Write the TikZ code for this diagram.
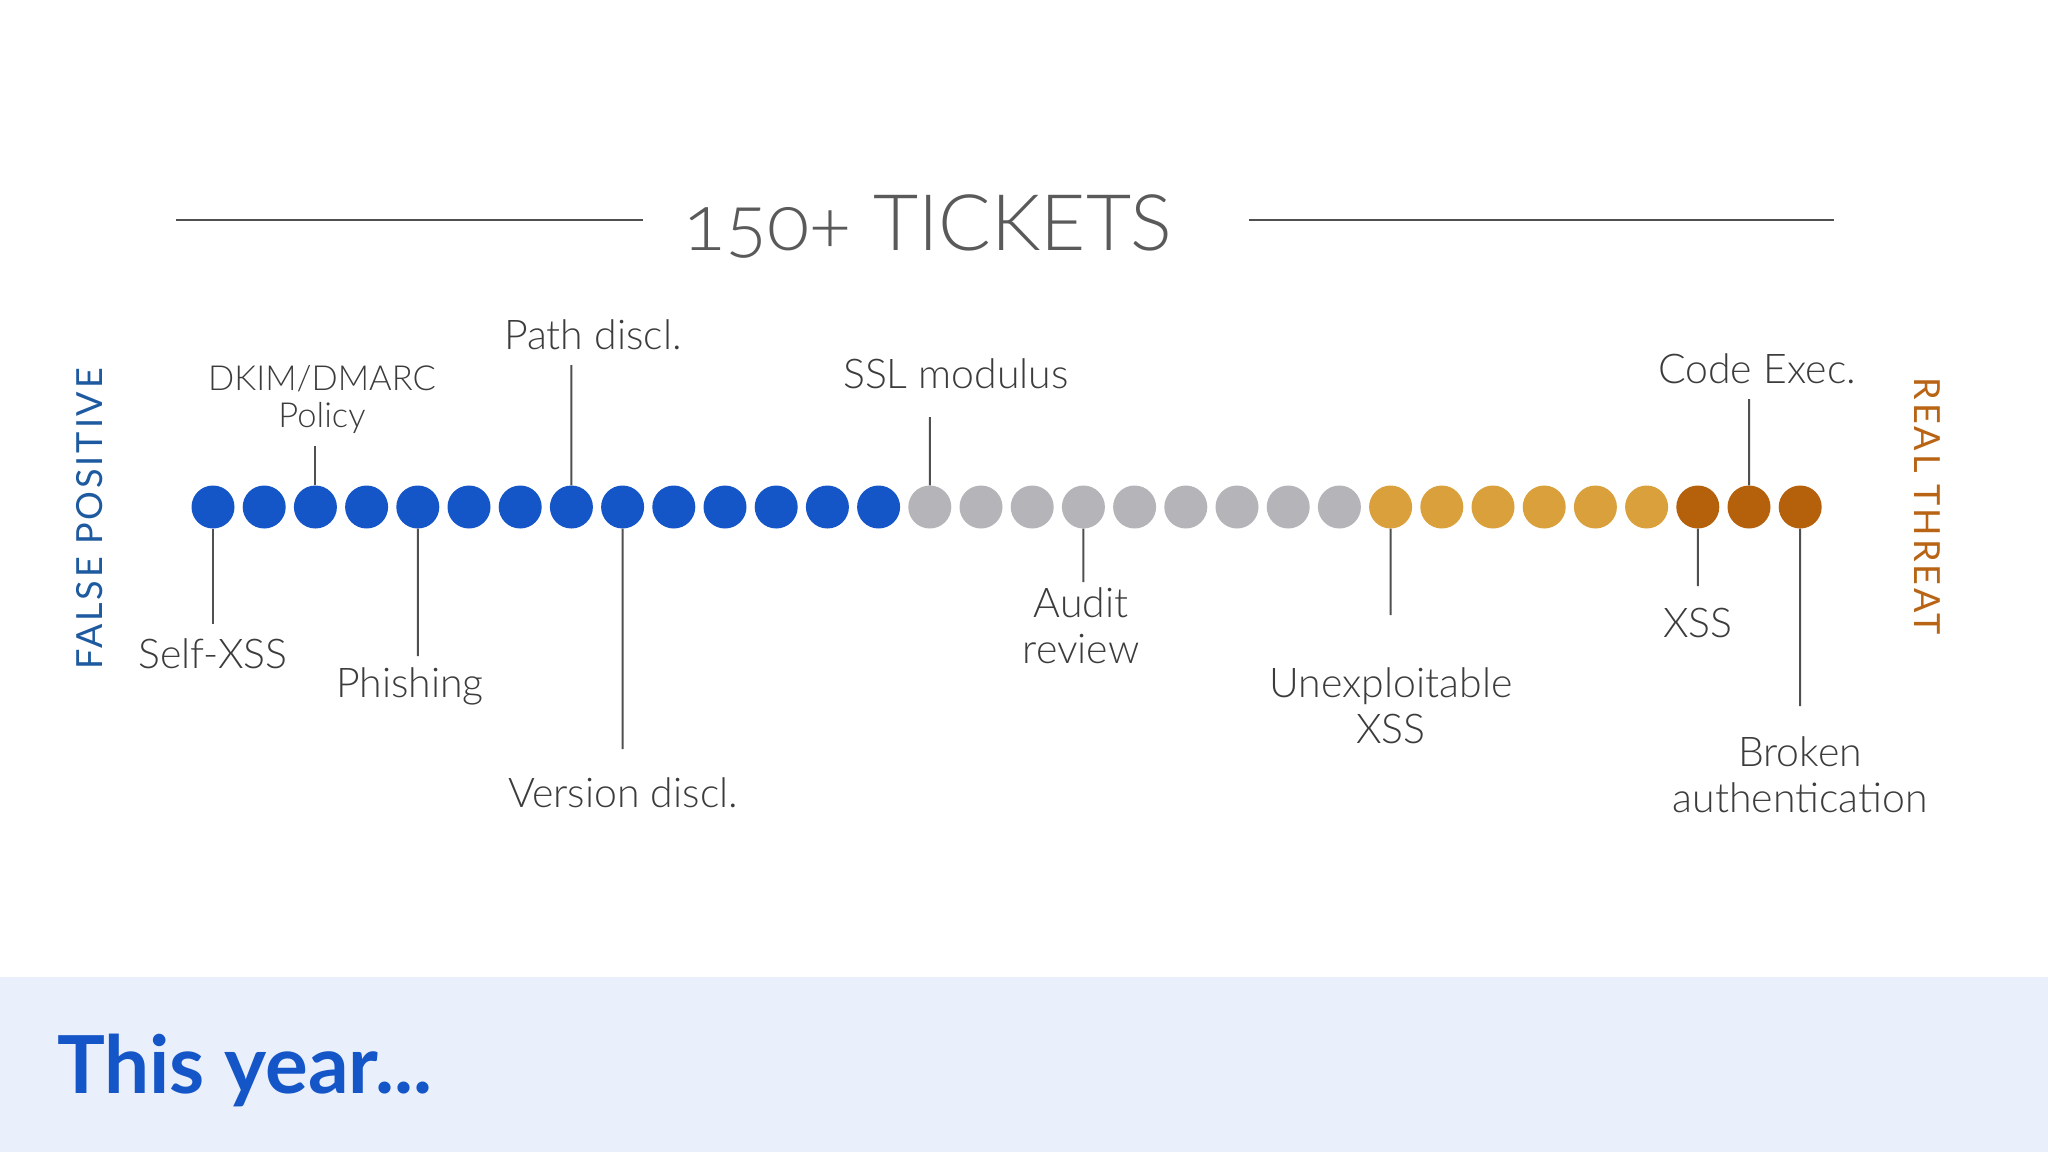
\documentclass[tikz,border=0pt]{standalone}
\usepackage{fontspec}
\IfFontExistsTF{Lato Light}{\newfontfamily\lblfont{Lato Light}}{\newfontfamily\lblfont{Lato}}
\IfFontExistsTF{Lato Light}{\newfontfamily\ttlfont[Numbers=OldStyle]{Lato Light}}{\newfontfamily\ttlfont[Numbers=OldStyle]{Lato}}
\newfontfamily\sidefont[LetterSpace=8]{Lato}
\newfontfamily\hdrfont{Lato}
\definecolor{dotblue}{HTML}{1456C8}
\definecolor{dotgray}{HTML}{B5B4B9}
\definecolor{dotgold}{HTML}{D9A03C}
\definecolor{dotrust}{HTML}{B5600B}
\definecolor{txtgray}{HTML}{3C3C3C}
\definecolor{linegray}{HTML}{505050}
\definecolor{ttlgray}{HTML}{5A5A5A}
\definecolor{fpblue}{HTML}{1E5AA0}
\definecolor{rtorange}{HTML}{B86414}
\definecolor{bandblue}{HTML}{E9EFFB}
\definecolor{titleblue}{HTML}{1455C8}
\begin{document}
\begin{tikzpicture}[x=1pt,y=-1pt,
  dot/.style={circle,inner sep=0pt,minimum size=43pt},
  lbl/.style={text=txtgray,font=\lblfont\fontsize{41}{46}\selectfont,align=center,inner sep=0pt},
  tick/.style={draw=linegray,line width=2pt}]
\useasboundingbox (0,0) rectangle (2048,1152);
\fill[white] (0,0) rectangle (2048,977);
\fill[bandblue] (0,977) rectangle (2048,1152);
% title
\node[text=ttlgray,font=\ttlfont\fontsize{78}{90}\selectfont,anchor=base,inner sep=0pt] (title) at (928,250) {150+ TICKETS};
\coordinate (hl1) at (176,220);
\coordinate (hl2) at (643,220);
\coordinate (hr1) at (1249,220);
\coordinate (hr2) at (1834,220);
\draw[draw=linegray,line width=2.2pt] (hl1) -- (hl2);
\draw[draw=linegray,line width=2.2pt] (hr1) -- (hr2);
% dots
\foreach \i in {0,...,13} \node[dot,fill=dotblue] (d\i) at (213+\i*51.2,507) {};
\foreach \i in {14,...,22} \node[dot,fill=dotgray] (d\i) at (213+\i*51.2,507) {};
\foreach \i in {23,...,28} \node[dot,fill=dotgold] (d\i) at (213+\i*51.2,507) {};
\foreach \i in {29,...,31} \node[dot,fill=dotrust] (d\i) at (213+\i*51.2,507) {};
% tick ends
\coordinate (e0) at (213,624);
\coordinate (e2) at (315.4,446);
\coordinate (e4) at (417.8,656);
\coordinate (e7) at (571.4,365);
\coordinate (e8) at (622.6,749);
\coordinate (e14) at (929.8,417);
\coordinate (e17) at (1083.4,582);
\coordinate (e23) at (1390.6,615);
\coordinate (e29) at (1697.8,586);
\coordinate (e30) at (1749,399);
\coordinate (e31) at (1800.2,706);
\foreach \k in {0,2,4,7,8,14,17,23,29,30,31} \draw[tick] (d\k) -- (e\k);
% labels (anchor=base is the baseline of the last line)
\node[lbl,anchor=base] (lselfxss) at (213,668) {Self-XSS};
\node[lbl,anchor=base,font=\lblfont\fontsize{34.5}{37}\selectfont] (ldkim) at (322,427) {DKIM/DMARC\\Policy};
\node[lbl,anchor=base] (lpath) at (593,349) {Path discl.};
\node[lbl,anchor=base] (lssl) at (956,388) {SSL modulus};
\node[lbl,anchor=base] (lcode) at (1757,383) {Code Exec.};
\node[lbl,anchor=base] (lphish) at (410,697) {Phishing};
\node[lbl,anchor=base] (lversion) at (623,807) {Version discl.};
\node[lbl,anchor=base] (laudit) at (1081,663) {Audit\\review};
\node[lbl,anchor=base] (lunexp) at (1391,743) {Unexploitable\\XSS};
\node[lbl,anchor=base] (lxss) at (1698,637) {XSS};
\node[lbl,anchor=base] (lbroken) at (1800,812) {Broken\\authentication};
% side labels
\node[text=fpblue,font=\sidefont\fontsize{36}{36}\selectfont,rotate=90,inner sep=0pt] (fp) at (90,519) {FALSE POSITIVE};
\node[text=rtorange,font=\sidefont\fontsize{36}{36}\selectfont,rotate=-90,inner sep=0pt] (rt) at (1927,506) {REAL THREAT};
% band title
\node[text=titleblue,font=\hdrfont\bfseries\fontsize{80}{90}\selectfont,anchor=base west,inner sep=0pt] (thisyear) at (57,1093) {This year...};
\end{tikzpicture}
\end{document}
